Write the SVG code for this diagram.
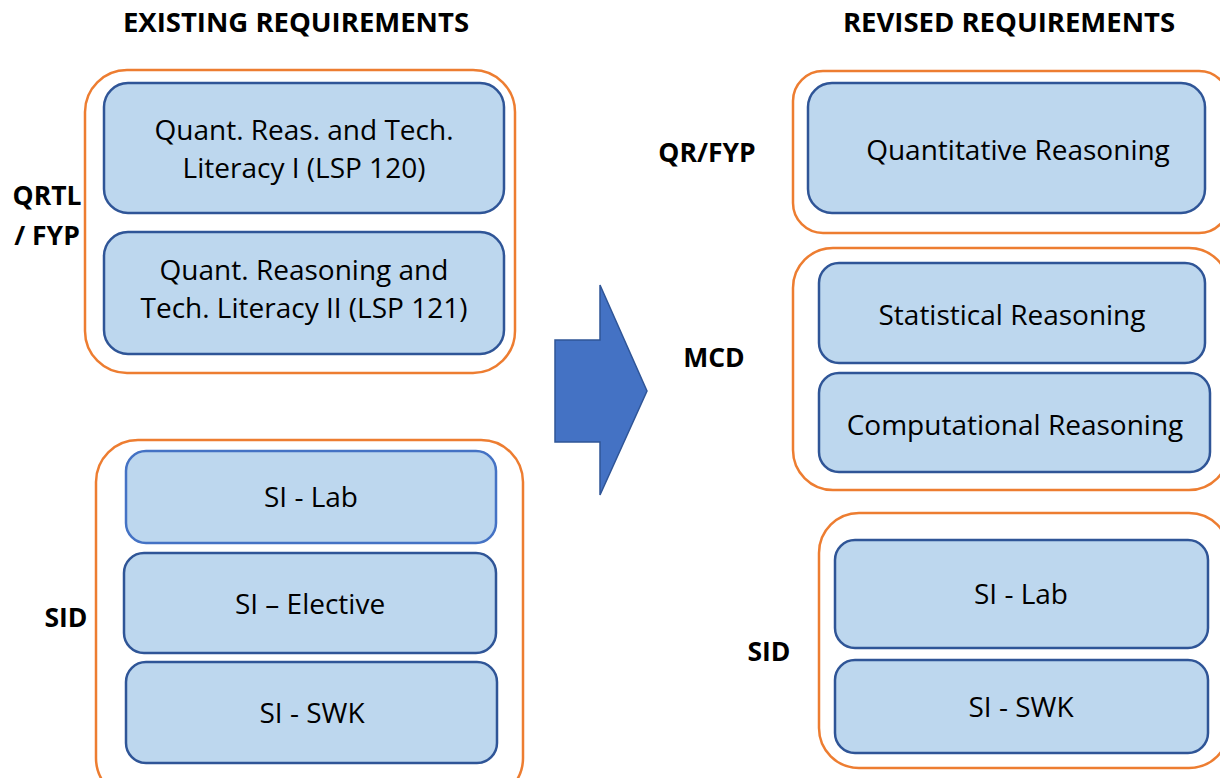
<svg xmlns="http://www.w3.org/2000/svg" width="1220" height="778" viewBox="0 0 1220 778">
<style>
.grp{fill:none;stroke:#ED7D31;stroke-width:2.5}
.box{fill:#BDD7EE;stroke:#2F5597;stroke-width:2.5}
.box2{fill:#BDD7EE;stroke:#4472C4;stroke-width:2.5}
.t{font-family:"Open Sans","Liberation Sans",sans-serif;font-size:28px;fill:#000;text-anchor:middle}
.h{font-family:"Open Sans","Liberation Sans",sans-serif;font-size:27.5px;font-weight:bold;fill:#000;text-anchor:middle}
.l{font-family:"Open Sans","Liberation Sans",sans-serif;font-size:26.5px;font-weight:bold;fill:#000;text-anchor:middle}
</style>
<rect width="1220" height="778" fill="#fff"/>
<g id="headers">
<text class="h" x="296" y="32">EXISTING REQUIREMENTS</text>
<text class="h" x="1009" y="32">REVISED REQUIREMENTS</text>
</g>
<g id="labels">
<text class="l" x="47" y="205">QRTL</text>
<text class="l" x="47" y="245">/ FYP</text>
<text class="l" x="707" y="162">QR/FYP</text>
<text class="l" x="714" y="367">MCD</text>
<text class="l" x="66" y="627">SID</text>
<text class="l" x="769" y="661">SID</text>
</g>
<g id="group-qrtl">
<rect class="grp" x="85" y="70" width="430" height="303" rx="42"/>
</g>
<g id="node-lsp120">
<rect class="box" x="104" y="83" width="400" height="130" rx="24"/>
<text class="t" x="304" y="140">Quant. Reas. and Tech.</text>
<text class="t" x="304" y="178">Literacy I (LSP 120)</text>
</g>
<g id="node-lsp121">
<rect class="box" x="104" y="232" width="400" height="122" rx="24"/>
<text class="t" x="304" y="280">Quant. Reasoning and</text>
<text class="t" x="304" y="318">Tech. Literacy II (LSP 121)</text>
</g>
<g id="group-sid-old">
<rect class="grp" x="96" y="440" width="427" height="360" rx="42"/>
</g>
<g id="node-silab-old">
<rect class="box2" x="126" y="451" width="370" height="92" rx="20"/>
<text class="t" x="311" y="507">SI - Lab</text>
</g>
<g id="node-sielective">
<rect class="box" x="124" y="553" width="372" height="100" rx="20"/>
<text class="t" x="310" y="614">SI – Elective</text>
</g>
<g id="node-siswk-old">
<rect class="box" x="126" y="662" width="371" height="101" rx="20"/>
<text class="t" x="312" y="723">SI - SWK</text>
</g>
<g id="connectors">
<polygon points="555,340 600,340 600,285 647,391 600,495 600,442 555,442" fill="#4472C4" stroke="#2F5597" stroke-width="1.5"/>
</g>
<g id="group-qrfyp">
<rect class="grp" x="793" y="71" width="436" height="162" rx="30"/>
</g>
<g id="node-qr">
<rect class="box" x="808" y="83" width="397" height="130" rx="24"/>
<text class="t" x="1018" y="160">Quantitative Reasoning</text>
</g>
<g id="group-mcd">
<rect class="grp" x="793" y="248" width="436" height="242" rx="40"/>
</g>
<g id="node-stat">
<rect class="box" x="819" y="263" width="386" height="100" rx="20"/>
<text class="t" x="1012" y="325">Statistical Reasoning</text>
</g>
<g id="node-comp">
<rect class="box" x="819" y="373" width="391" height="99" rx="20"/>
<text class="t" x="1015" y="435">Computational Reasoning</text>
</g>
<g id="group-sid-new">
<rect class="grp" x="819" y="513" width="410" height="255" rx="40"/>
</g>
<g id="node-silab-new">
<rect class="box" x="835" y="540" width="373" height="108" rx="20"/>
<text class="t" x="1021" y="604">SI - Lab</text>
</g>
<g id="node-siswk-new">
<rect class="box" x="835" y="660" width="373" height="93" rx="20"/>
<text class="t" x="1021" y="717">SI - SWK</text>
</g>
</svg>
